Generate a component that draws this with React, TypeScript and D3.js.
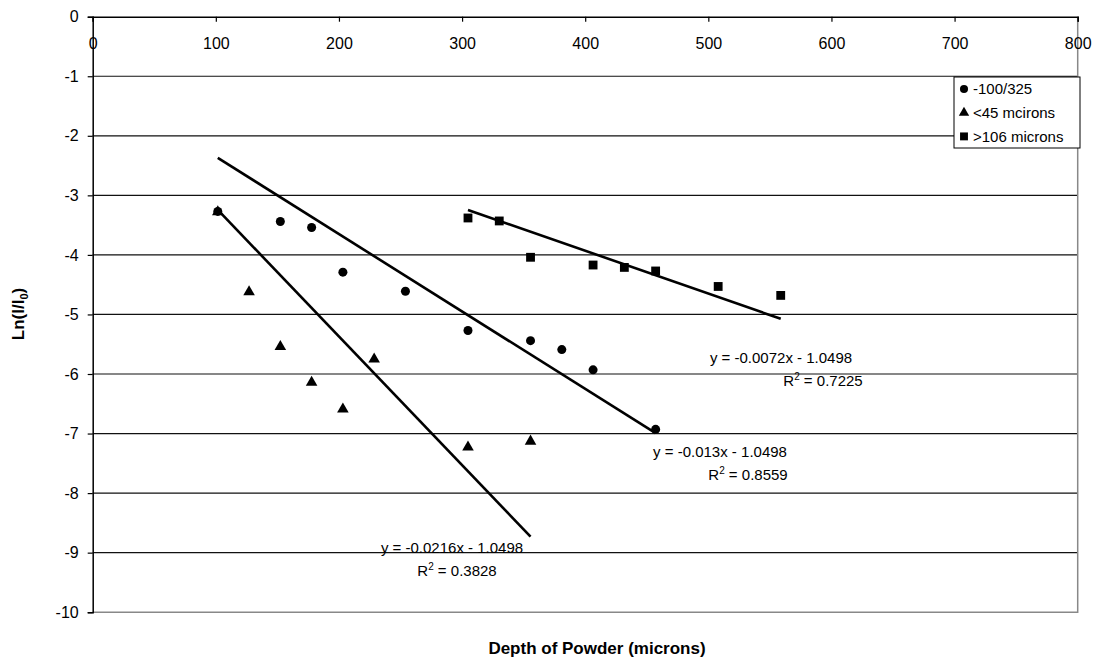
// Dependencies
import React, { useRef, useEffect } from "react";
import * as d3 from "d3";

// Depth of powder (microns) and Ln(I/I0)
const sizeNames = ["-100/325", "<45 mcirons", ">106 microns"];

const mediumDepth = [101.6, 152.4, 177.8, 203.2, 254, 304.8, 355.6, 381, 406.4, 457.2];
const mediumLn = [-3.27, -3.44, -3.54, -4.29, -4.61, -5.27, -5.44, -5.59, -5.93, -6.93];

const fineDepth = [101.6, 127, 152.4, 177.8, 203.2, 228.6, 304.8, 355.6];
const fineLn = [-3.28, -4.62, -5.54, -6.14, -6.59, -5.75, -7.23, -7.13];

const coarseDepth = [304.8, 330.2, 355.6, 406.4, 431.8, 457.2, 508, 558.8];
const coarseLn = [-3.38, -3.43, -4.04, -4.17, -4.21, -4.27, -4.53, -4.68];

// Linear trendlines (slope, intercept, R²) as printed on the chart
const trendSlopes = [-0.013, -0.0216, -0.0072];
const trendIntercepts = [-1.0498, -1.0498, -1.0498];
const trendR2 = ["0.8559", "0.3828", "0.7225"];

const xTicks = [0, 100, 200, 300, 400, 500, 600, 700, 800];
const yTicks = [0, -1, -2, -3, -4, -5, -6, -7, -8, -9, -10];

const FONT = "'Liberation Sans', Arial, sans-serif";

const DepthChart: React.FC<{ width: number; height: number }> = ({ width, height }) => {
  const svgRef = useRef<SVGSVGElement | null>(null);

  useEffect(() => {
    if (!svgRef.current) return;
    document.body.style.margin = "0";

    const plot = { left: 92.7, right: 1077.7, top: 16.7, bottom: 612.2 };

    const svg = d3.select(svgRef.current).attr("width", width).attr("height", height);
    const g = svg.append("g");

    const x = d3.scaleLinear().domain([0, 800]).range([plot.left, plot.right]);
    const y = d3.scaleLinear().domain([-10, 0]).range([plot.bottom, plot.top]);

    // gridlines
    g.append("g")
      .selectAll("line")
      .data(yTicks.filter((d) => d !== 0 && d !== -10))
      .enter()
      .append("line")
      .attr("x1", plot.left)
      .attr("x2", plot.right)
      .attr("y1", (d) => y(d))
      .attr("y2", (d) => y(d))
      .attr("stroke", "#111")
      .attr("stroke-width", 1.2);

    // plot area border (right and bottom are gray)
    g.append("path")
      .attr("d", `M${plot.right},${plot.top}V${plot.bottom}H${plot.left}`)
      .attr("fill", "none")
      .attr("stroke", "#888")
      .attr("stroke-width", 1.5);

    // y axis on the left, plain hyphen for negatives like Excel
    const yAxis = g
      .append("g")
      .attr("transform", `translate(${plot.left},0)`)
      .call(
        d3
          .axisLeft(y)
          .tickValues(yTicks)
          .tickSize(5)
          .tickPadding(9)
          .tickFormat((d) => String(d))
      );
    yAxis.select(".domain").attr("stroke", "#000").attr("stroke-width", 1.5);
    yAxis.selectAll(".tick line").attr("stroke", "#000").attr("stroke-width", 1.2);
    yAxis
      .selectAll(".tick text")
      .attr("font-family", FONT)
      .attr("font-size", 16)
      .attr("fill", "#000");

    // x axis crosses at y = 0 (top), ticks inside
    const xAxis = g
      .append("g")
      .attr("transform", `translate(0,${y(0)})`)
      .call(
        d3
          .axisBottom(x)
          .tickValues(xTicks)
          .tickSizeOuter(0)
          .tickSize(5)
          .tickPadding(16)
          .tickFormat((d) => String(d))
      );
    xAxis.select(".domain").attr("stroke", "#000").attr("stroke-width", 1.5);
    xAxis.selectAll(".tick line").attr("stroke", "#000").attr("stroke-width", 1.2);
    xAxis
      .selectAll(".tick text")
      .attr("font-family", FONT)
      .attr("font-size", 16)
      .attr("fill", "#000");

    // trendlines, drawn over each series' depth range
    const series = [mediumDepth, fineDepth, coarseDepth];
    const values = [mediumLn, fineLn, coarseLn];
    series.forEach((depths, i) => {
      const ends = d3.extent(depths) as [number, number];
      const pts: [number, number][] = ends.map((d) => [
        x(d),
        y(trendSlopes[i] * d + trendIntercepts[i]),
      ]);
      g.append("path")
        .attr("d", d3.line()(pts)!)
        .attr("fill", "none")
        .attr("stroke", "#000")
        .attr("stroke-width", 2.6);
    });

    // markers
    const sym = [d3.symbolCircle, d3.symbolTriangle, d3.symbolSquare];
    const symSize = [64, 58, 78];
    series.forEach((depths, i) => {
      g.append("g")
        .selectAll("path")
        .data(depths)
        .enter()
        .append("path")
        .attr("transform", (d, j) => `translate(${x(d)},${y(values[i][j])})`)
        .attr("d", d3.symbol().type(sym[i]).size(symSize[i])()!)
        .attr("fill", "#000");
    });

    // trendline equation labels
    const labelPos = [
      { x: 720, y: 457, rx: 748, ry: 480 },
      { x: 452, y: 553, rx: 457, ry: 576 },
      { x: 781, y: 363, rx: 823, ry: 386 },
    ];
    labelPos.forEach((p, i) => {
      g.append("text")
        .attr("x", p.x)
        .attr("y", p.y)
        .attr("text-anchor", "middle")
        .attr("font-family", FONT)
        .attr("font-size", 15)
        .text(`y = ${trendSlopes[i]}x - ${Math.abs(trendIntercepts[i])}`);
      const r = g
        .append("text")
        .attr("x", p.rx)
        .attr("y", p.ry)
        .attr("text-anchor", "middle")
        .attr("font-family", FONT)
        .attr("font-size", 15);
      r.append("tspan").text("R");
      r.append("tspan").attr("font-size", 10).attr("dy", -6).text("2");
      r.append("tspan").attr("dy", 6).text(` = ${trendR2[i]}`);
    });

    // legend
    const legend = g.append("g").attr("transform", "translate(954,77)");
    legend
      .append("rect")
      .attr("width", 126)
      .attr("height", 71)
      .attr("fill", "#fff")
      .attr("stroke", "#000")
      .attr("stroke-width", 1);
    sizeNames.forEach((name, i) => {
      legend
        .append("path")
        .attr("transform", `translate(10,${12 + i * 23.7})`)
        .attr("d", d3.symbol().type(sym[i]).size(symSize[i] * 0.8)()!)
        .attr("fill", "#000");
      legend
        .append("text")
        .attr("x", 19)
        .attr("y", 12 + i * 23.7)
        .attr("dy", "0.35em")
        .attr("font-family", FONT)
        .attr("font-size", 15)
        .text(name);
    });

    // axis titles
    const yt = g
      .append("text")
      .attr("transform", `translate(24,314)rotate(-90)`)
      .attr("text-anchor", "middle")
      .attr("font-family", FONT)
      .attr("font-size", 17)
      .attr("font-weight", "bold");
    yt.append("tspan").text("Ln(I/I");
    yt.append("tspan").attr("font-size", 11).attr("dy", 4).text("0");
    yt.append("tspan").attr("dy", -4).text(")");

    g.append("text")
      .attr("x", 597)
      .attr("y", 654)
      .attr("text-anchor", "middle")
      .attr("font-family", FONT)
      .attr("font-size", 17)
      .attr("font-weight", "bold")
      .text("Depth of Powder (microns)");

    return () => {
      svg.selectAll("*").remove();
    };
  }, [width, height]);

  return <svg ref={svgRef} style={{ display: "block" }} />;
};

export default function App() {
  return <DepthChart width={1102} height={662} />;
}
